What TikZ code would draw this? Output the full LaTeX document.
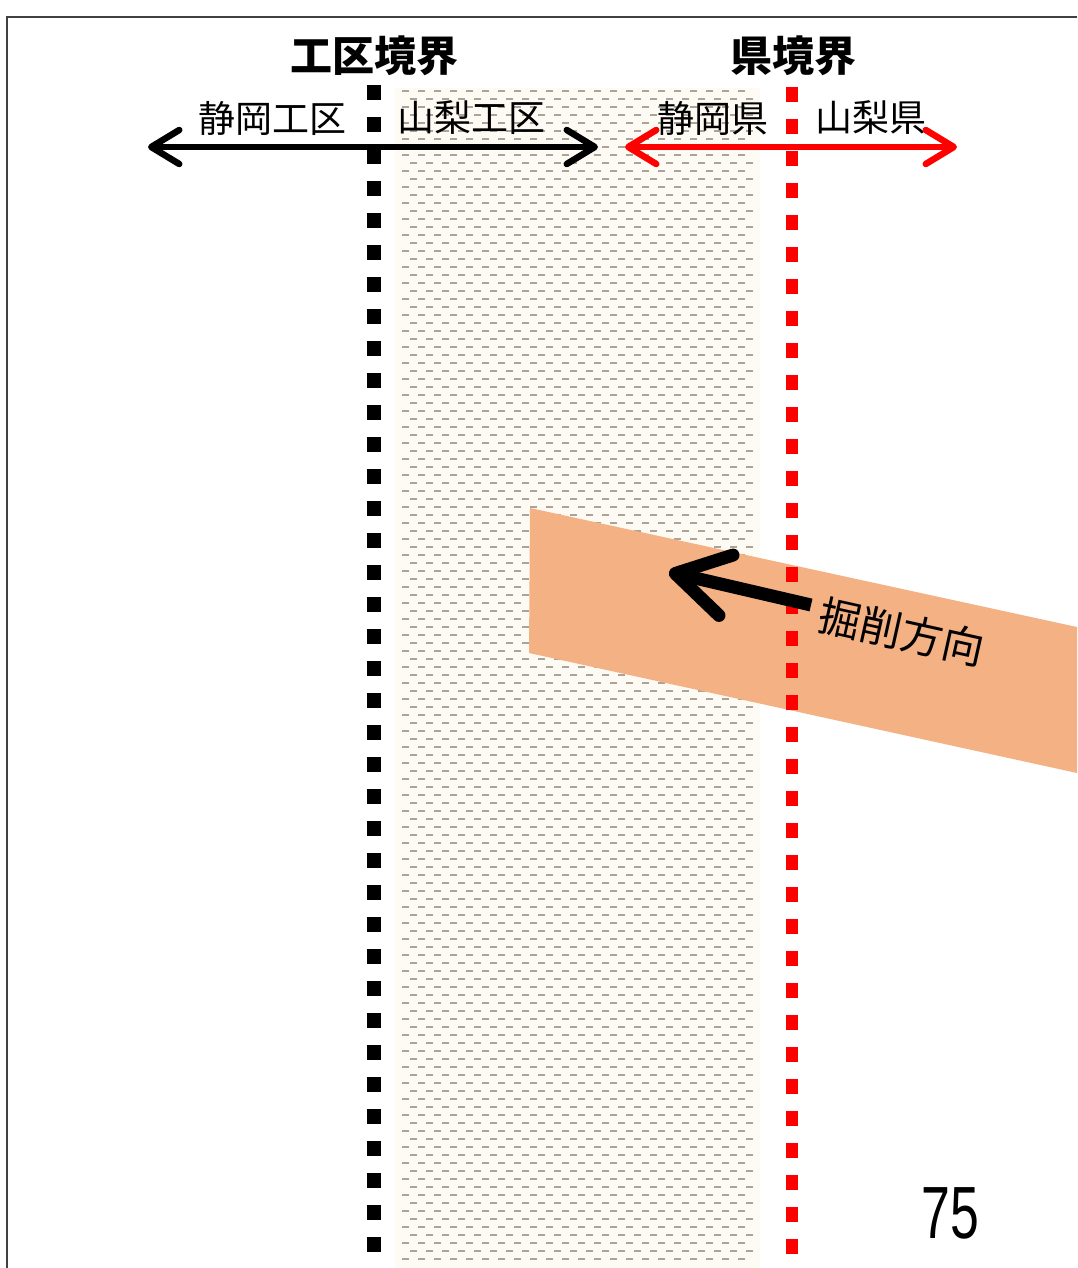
\documentclass[tikz,border=0pt]{standalone}
\usepackage{fontspec}
\setmainfont{Liberation Sans}
\newfontfamily\jp{Noto Sans CJK JP}
\usetikzlibrary{arrows.meta}
\definecolor{bandc}{HTML}{F4B183}
\definecolor{redl}{HTML}{FF0000}
\definecolor{hatchc}{HTML}{ABA299}
\definecolor{cream}{HTML}{FEFAF4}
\definecolor{framec}{HTML}{404040}
\begin{document}
\begin{tikzpicture}[x=1pt,y=-1pt,
  every node/.style={inner sep=0pt, outer sep=0pt},
  titlelbl/.style={font=\jp\bfseries\fontsize{42}{42}\selectfont},
  sidelbl/.style={font=\jp\fontsize{37}{37}\selectfont},
  bounddots/.style={line width=#1, dash pattern=on 15pt off 17pt},
  dblarrow/.style={line width=6.5pt, {Straight Barb[length=28pt,width=34pt,round]}-{Straight Barb[length=28pt,width=34pt,round]}},
  digarrow/.style={line width=13pt, -{Straight Barb[length=52pt,width=62pt,round]}}
]
\useasboundingbox (0,0) rectangle (1077,1268);
\fill[white] (0,0) rectangle (1077,1268);
% frame
\draw[framec, line width=2.5pt] (7,1268) -- (7,17) -- (1077,17);
% hatched zone
\fill[cream] (395,88) rectangle (760,1268);
\draw[hatchc, line width=2.4pt] foreach \r in {0,...,146} {foreach \c in {0,...,21} {({402+16*\c+8*mod(\r,2)},{91+8*\r}) -- ++(7,0)}};
% excavation band
\fill[bandc] (530,508) -- (1077,627) -- (1077,773) -- (529,653) -- cycle;
% boundary lines
\coordinate (kt) at (373.5,85);
\coordinate (kb) at (373.5,1254);
\coordinate (rt) at (792,87);
\coordinate (rb) at (792,1254);
\draw[black, bounddots=14pt] (kt) -- (kb);
\draw[redl, bounddots=12pt] (rt) -- (rb);
% titles
\node[titlelbl] (t1) at (374,56) {工区境界};
\node[titlelbl] (t2) at (793,56) {県境界};
\node[sidelbl] (l1) at (272,118) {静岡工区};
\node[sidelbl] (l2) at (471,118) {山梨工区};
\node[sidelbl] (l3) at (713,118) {静岡県};
\node[sidelbl] (l4) at (871,118) {山梨県};
% double arrows
\coordinate (al) at (148,147);
\coordinate (ar) at (598,147);
\coordinate (bl) at (625,147);
\coordinate (br) at (957,147);
\draw[black, dblarrow] (al) -- (ar);
\draw[redl, dblarrow] (bl) -- (br);
% excavation direction
\coordinate (et) at (811,605);
\coordinate (eh) at (669,572);
\draw[black, digarrow] (et) -- (eh);
\node[font=\jp\fontsize{42}{42}\selectfont, rotate=-12.5] (dir) at (902,632) {掘削方向};
% page number
\node[font=\fontsize{74}{74}\selectfont, xscale=0.7] (pg) at (950,1213) {75};
\end{tikzpicture}
\end{document}
